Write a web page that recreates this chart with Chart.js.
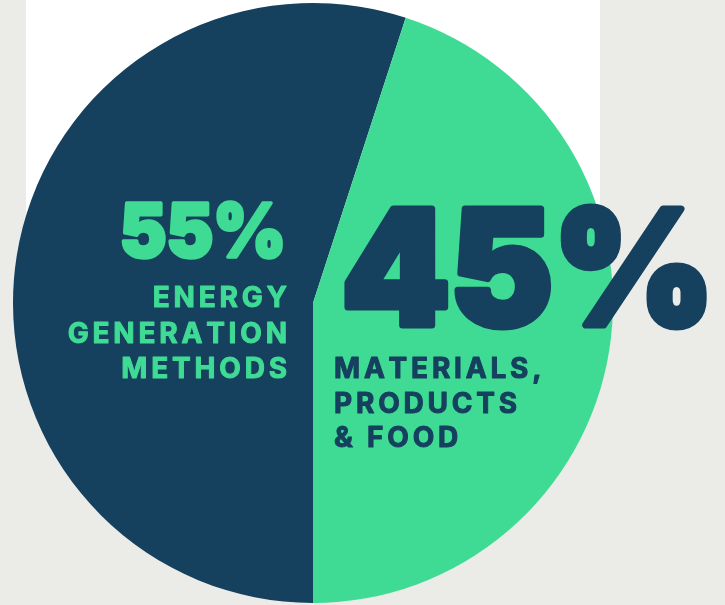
<!DOCTYPE html>
<html>
<head>
<meta charset="utf-8">
<script src="https://cdn.jsdelivr.net/npm/chart.js@4"></script>
<style>
  html, body { margin: 0; padding: 0; background: #ebebe8; }
  #wrap { position: relative; width: 725px; height: 605px; }
  canvas { display: block; }
</style>
</head>
<body>
<div id="wrap"><canvas id="c" width="725" height="605"></canvas></div>
<script>
// ---- data ----
const categories = ['Energy generation methods', 'Materials, products & food'];
const values = [55, 45];
const labelLines = [
  ['ENERGY', 'GENERATION', 'METHODS'],
  ['MATERIALS,', 'PRODUCTS', '& FOOD']
];

// ---- styles ----
const NAVY = '#15405e';
const GREEN = '#3fdb94';
const sliceColors = [NAVY, GREEN];
const textColors = [GREEN, NAVY];
const FONT = '"Inter", "Open Sans", "Liberation Sans", sans-serif';

const backdrop = {
  id: 'backdrop',
  beforeDraw(chart) {
    const ctx = chart.ctx;
    ctx.save();
    ctx.fillStyle = '#ebebe8';
    ctx.fillRect(0, 0, chart.width, chart.height);
    ctx.fillStyle = '#ffffff';
    ctx.fillRect(26, 0, 574, 300);
    ctx.restore();
  }
};

function drawSpaced(ctx, text, x, y, align, spacing, stroke) {
  const chars = Array.from(text);
  const widths = chars.map(ch => ctx.measureText(ch).width);
  const total = widths.reduce((a, b) => a + b, 0) + spacing * (chars.length - 1);
  let cx = align === 'right' ? x - total : x;
  ctx.textAlign = 'left';
  ctx.lineJoin = 'round';
  ctx.lineWidth = stroke;
  chars.forEach((ch, i) => {
    ctx.fillText(ch, cx, y);
    if (stroke > 0) ctx.strokeText(ch, cx, y);
    cx += widths[i] + spacing;
  });
}

function drawFit(ctx, text, x, y, align, targetW, stroke) {
  ctx.textAlign = 'left';
  const w = ctx.measureText(text).width + stroke;
  const s = targetW / w;
  ctx.save();
  ctx.translate(align === 'right' ? x - targetW : x, y);
  ctx.scale(s, 1);
  ctx.lineJoin = 'round';
  ctx.lineWidth = stroke;
  ctx.fillText(text, stroke / 2, 0);
  ctx.strokeText(text, stroke / 2, 0);
  ctx.restore();
}

const annotations = {
  id: 'annotations',
  afterDatasetsDraw(chart) {
    const ctx = chart.ctx;
    const arc = chart.getDatasetMeta(0).data[0];
    const cx = arc.x, cy = arc.y;
    ctx.save();
    ctx.textBaseline = 'alphabetic';

    // left: 55%
    ctx.fillStyle = textColors[0];
    ctx.strokeStyle = textColors[0];
    ctx.font = '900 74px ' + FONT;
    drawFit(ctx, values[0] + '%', cx - 25, cy - 46.5, 'right', 170, 3.5);
    ctx.font = '700 28px ' + FONT;
    labelLines[0].forEach((line, i) => {
      drawSpaced(ctx, line, cx - 26, cy + 4 + i * 35.5, 'right', 3.8, 1);
    });

    // right: 45%
    ctx.fillStyle = textColors[1];
    ctx.strokeStyle = textColors[1];
    ctx.font = '900 159px ' + FONT;
    drawFit(ctx, values[1] + '%', cx + 25, cy + 22, 'left', 380, 7);
    ctx.font = '700 28px ' + FONT;
    labelLines[1].forEach((line, i) => {
      drawSpaced(ctx, line, cx + 21, cy + 75 + i * 34.5, 'left', 3.8, 1);
    });
    ctx.restore();
  }
};

new Chart(document.getElementById('c'), {
  type: 'pie',
  data: {
    labels: categories,
    datasets: [{
      data: values,
      backgroundColor: sliceColors,
      borderWidth: 0,
      hoverOffset: 0
    }]
  },
  options: {
    responsive: false,
    animation: false,
    rotation: 180,
    layout: { padding: { left: 13, right: 112, top: 3, bottom: 2 } },
    plugins: { legend: { display: false }, tooltip: { enabled: false } },
    events: []
  },
  plugins: [backdrop, annotations]
});
</script>
</body>
</html>
